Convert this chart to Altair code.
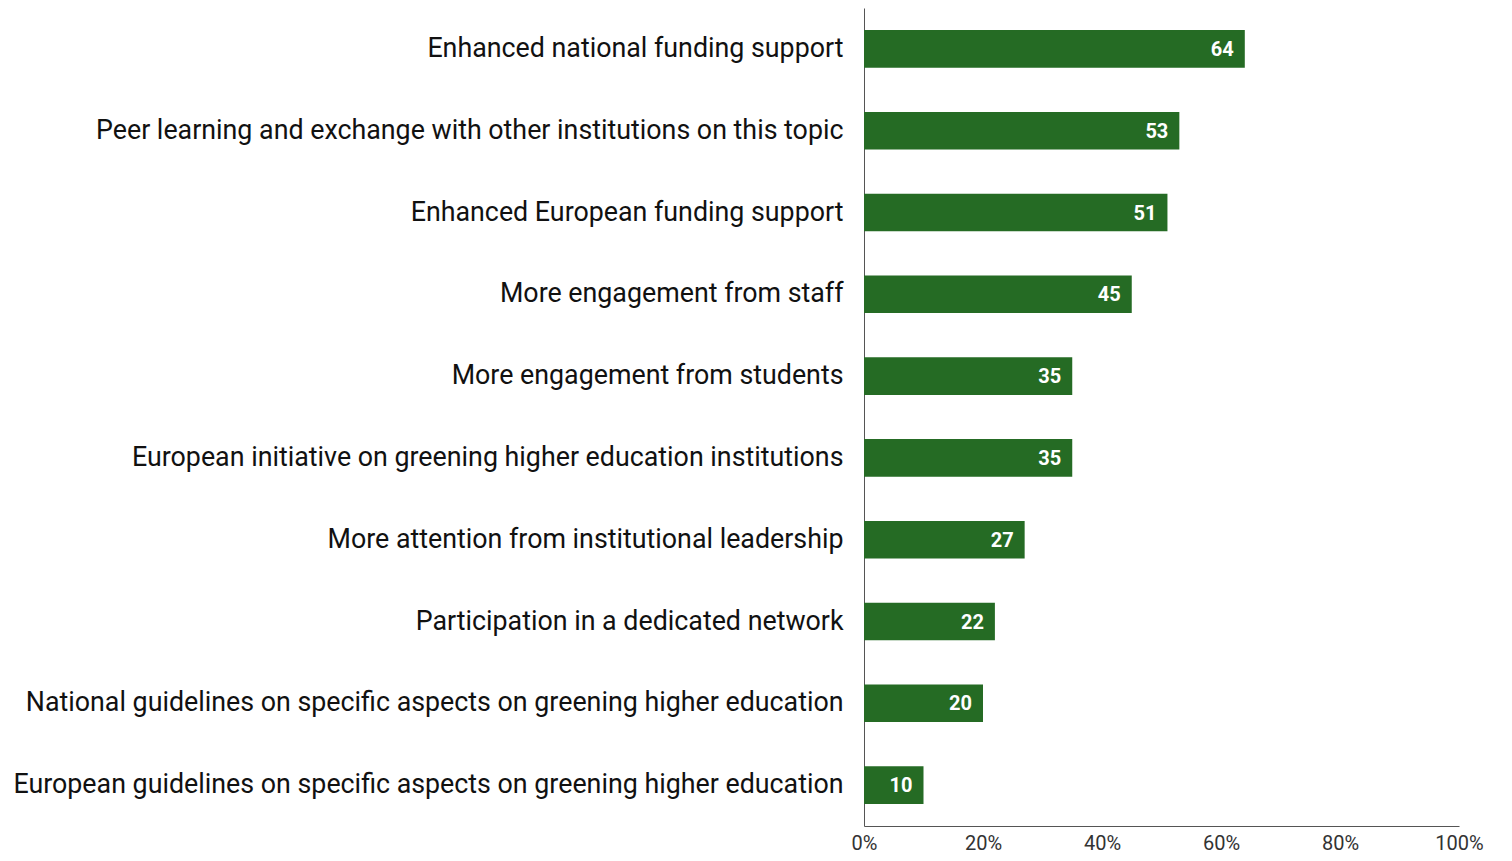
import altair as alt
import pandas as pd

categories = [
    "Enhanced national funding support",
    "Peer learning and exchange with other institutions on this topic",
    "Enhanced European funding support",
    "More engagement from staff",
    "More engagement from students",
    "European initiative on greening higher education institutions",
    "More attention from institutional leadership",
    "Participation in a dedicated network",
    "National guidelines on specific aspects on greening higher education",
    "European guidelines on specific aspects on greening higher education",
]
values = [64, 53, 51, 45, 35, 35, 27, 22, 20, 10]

df = pd.DataFrame({"category": categories, "value": values})

FONT = "Roboto"
GREEN = "#256b24"

y_enc = alt.Y(
    "category:N",
    sort=categories,
    title=None,
    scale=alt.Scale(paddingInner=0.54, paddingOuter=0.27),
    axis=alt.Axis(
        ticks=False,
        domainColor="#555555",
        labelFontSize=26.8,
        labelFont=FONT,
        labelColor="#111111",
        labelPadding=21,
        labelLimit=1000,
    ),
)
x_enc = alt.X(
    "value:Q",
    title=None,
    scale=alt.Scale(domain=[0, 100]),
    axis=alt.Axis(
        values=[0, 20, 40, 60, 80, 100],
        labelExpr="datum.value + '%'",
        grid=False,
        ticks=False,
        domainColor="#555555",
        labelFontSize=20,
        labelFont=FONT,
        labelColor="#333333",
        labelPadding=7,
        labelFlush=False,
    ),
)

bars = alt.Chart(df).mark_bar(color=GREEN).encode(x=x_enc, y=y_enc)
text = alt.Chart(df).mark_text(
    align="right", baseline="middle", dx=-11, dy=1, color="white",
    font=FONT, fontWeight="bold", fontSize=20,
).encode(x=alt.X("value:Q"), y=alt.Y("category:N", sort=categories), text="value:Q")

chart = (
    (bars + text)
    .properties(
        width=1490,
        height=845,
        padding={"left": 4, "top": 0, "right": 14, "bottom": 0},
        autosize=alt.AutoSizeParams(type="fit", contains="padding"),
    )
    .configure_view(stroke=None)
)

chart.save("out.html", embed_options={"renderer": "svg", "actions": False})
